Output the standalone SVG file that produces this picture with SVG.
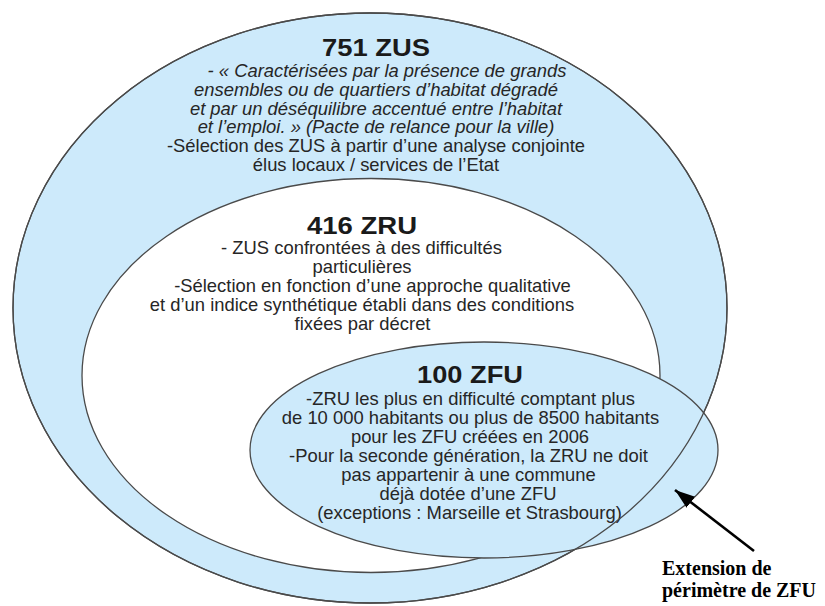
<svg xmlns="http://www.w3.org/2000/svg" width="825" height="606" viewBox="0 0 825 606">
<style>
.zone{stroke:#4a4a4a;stroke-width:1.3}
.blue{fill:#cdeafb}
.white{fill:#ffffff}
.outline{fill:none;stroke:#4a4a4a;stroke-width:1.3}
.h{font-family:"Liberation Sans",Arial,sans-serif;font-weight:bold;font-size:24px;fill:#1a1a1a;text-anchor:middle}
.b{font-family:"Liberation Sans",Arial,sans-serif;font-size:18.4px;fill:#262626;text-anchor:middle}
.i{font-style:italic}
.lbl{font-family:"Liberation Serif","Times New Roman",serif;font-weight:bold;font-size:20px;fill:#000}
.arrow{stroke:#000;stroke-width:2.6;fill:none}
</style>
<defs>
<marker id="ah" markerUnits="userSpaceOnUse" markerWidth="22" markerHeight="16" refX="20" refY="7" orient="auto">
<path d="M0,0 L20,7 L0,14 Z" fill="#000"/>
</marker>
</defs>
<rect width="825" height="606" fill="#ffffff"/>
<g id="zus">
<ellipse class="zone blue" cx="370" cy="308" rx="357" ry="295"/>
<text class="h" x="376" y="56" textLength="108" lengthAdjust="spacingAndGlyphs">751 ZUS</text>
<text class="b i" x="387" y="77">- « Caractérisées  par la présence de grands</text>
<text class="b i" x="376" y="95.8">ensembles ou de quartiers d’habitat dégradé</text>
<text class="b i" x="376" y="114.6">et par un déséquilibre accentué entre l’habitat</text>
<text class="b i" x="376" y="133.4">et l’emploi. » (Pacte de relance pour la ville)</text>
<text class="b" x="376" y="152.2">-Sélection des ZUS à partir d’une analyse conjointe</text>
<text class="b" x="376" y="171">élus locaux / services de l’Etat</text>
</g>
<g id="zru">
<ellipse class="zone white" cx="371" cy="375.5" rx="289" ry="197"/>
<text class="h" x="362" y="234" textLength="110" lengthAdjust="spacingAndGlyphs">416 ZRU</text>
<text class="b" x="361.5" y="254">- ZUS confrontées à des difficultés</text>
<text class="b" x="362" y="273">particulières</text>
<text class="b" x="372.5" y="292">-Sélection en fonction d’une approche qualitative</text>
<text class="b" x="362" y="311">et d’un indice synthétique établi dans des conditions</text>
<text class="b" x="362.5" y="330">fixées par décret</text>
</g>
<g id="zfu">
<ellipse class="zone blue" cx="484" cy="450" rx="234" ry="108"/>
<text class="h" x="470" y="383" textLength="106" lengthAdjust="spacingAndGlyphs">100 ZFU</text>
<text class="b" x="470.5" y="405">-ZRU les plus en difficulté comptant plus</text>
<text class="b" x="470.5" y="424">de 10 000 habitants ou plus de 8500 habitants</text>
<text class="b" x="470" y="443">pour les ZFU créées en 2006</text>
<text class="b" x="468.5" y="461.5">-Pour la seconde génération, la ZRU ne doit</text>
<text class="b" x="468.5" y="480.5">pas appartenir à une commune</text>
<text class="b" x="468" y="499.5">déjà dotée d’une ZFU</text>
<text class="b" x="469.5" y="518.5">(exceptions : Marseille et Strasbourg)</text>
</g>
<g id="zus-boundary">
<ellipse class="outline" cx="370" cy="308" rx="357" ry="295"/>
</g>
<g id="connectors">
<line class="arrow" x1="754" y1="551" x2="675" y2="490" marker-end="url(#ah)"/>
</g>
<g id="extension-label">
<text class="lbl" x="662" y="575">Extension de</text>
<text class="lbl" x="662" y="597">périmètre de ZFU</text>
</g>
</svg>
